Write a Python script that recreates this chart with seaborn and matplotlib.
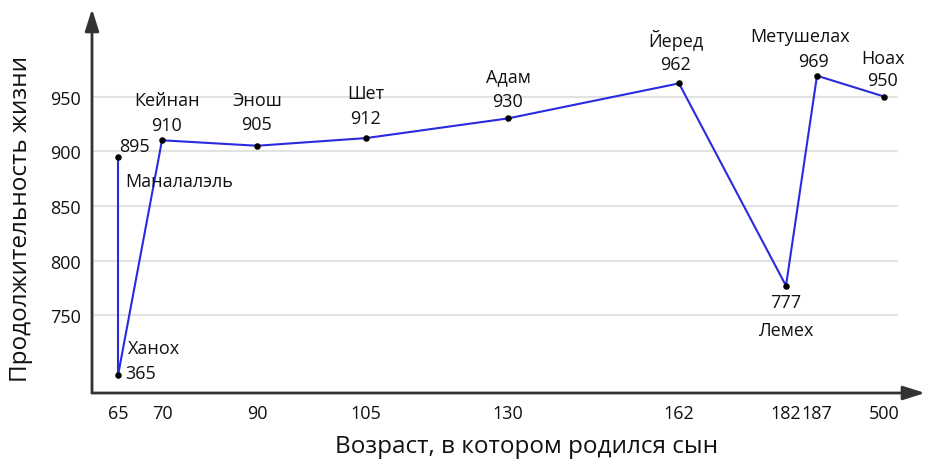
import numpy as np
import pandas as pd
import matplotlib
matplotlib.use("Agg")
import matplotlib.pyplot as plt
import seaborn as sns

# ---- data ----
names = ['Маналалэль', 'Ханох', 'Кейнан', 'Энош', 'Шет', 'Адам',
         'Йеред', 'Лемех', 'Метушелах', 'Ноах']
ages = [65, 65, 70, 90, 105, 130, 162, 182, 187, 500]
lifespans = [895, 365, 910, 905, 912, 930, 962, 777, 969, 950]
x_ticks = [65, 70, 90, 105, 130, 162, 182, 187, 500]
y_ticks = [750, 800, 850, 900, 950]

# ---- layout (not data) ----
W, H = 929, 464
x_tick_px = [118, 162, 257, 366, 508, 679, 786, 817, 884]
# label offsets in pixels: (name dx, name dy, name ha), (value dx, value dy, value ha)
name_off = [(7, -24, 'left'), (10, 27, 'left'), (5, 40, 'center'), (0, 46, 'center'),
            (0, 45, 'center'), (0, 42, 'center'), (-3, 44, 'center'), (0, -44, 'center'),
            (-17, 40, 'center'), (-1, 39, 'center')]
val_off = [(16, 11, 'center'), (7, 2, 'left'), (4, 15, 'center'), (0, 22, 'center'),
           (0, 20, 'center'), (0, 17, 'center'), (-3, 19, 'center'), (0, -16, 'center'),
           (-3, 15, 'center'), (-1, 17, 'center')]

df = pd.DataFrame({'age': ages, 'life': lifespans, 'name': names})

sns.set_theme(style='white')
plt.rcParams['font.family'] = ['Open Sans', 'DejaVu Sans']

fig = plt.figure(figsize=(W / 100, H / 100), dpi=100)
ax_left, ax_right, ax_top, ax_bottom = 92, 925, 10, 394
ax = fig.add_axes([ax_left / W, (H - ax_bottom) / H,
                   (ax_right - ax_left) / W, (ax_bottom - ax_top) / H])

# piecewise x scale
xa = np.array([0] + x_ticks + [1000], dtype=float)
pa = np.array([118 - 65 * 2] + x_tick_px + [884 + 50], dtype=float)
ax.set_xscale('function', functions=(lambda v: np.interp(v, xa, pa),
                                     lambda p: np.interp(p, pa, xa)))
# broken y scale: compress below 700
ya = np.array([0, 365, 700, 3000], dtype=float)
wa = np.array([660, 695, 700, 3000], dtype=float)
ax.set_yscale('function', functions=(lambda v: np.interp(v, ya, wa),
                                     lambda w: np.interp(w, wa, ya)))

ax.set_xlim(np.interp(ax_left, pa, xa), np.interp(ax_right, pa, xa))
ax.set_ylim(np.interp(679, wa, ya), 1030)

for yt in y_ticks:
    ax.axhline(yt, xmax=(897 - ax_left) / (ax_right - ax_left), color='#e2e2e2', lw=1.5, zorder=0)

sns.lineplot(data=df, x='age', y='life', sort=False, color='#2a2ae0', lw=1.5, ax=ax,
             estimator=None, zorder=2)
sns.scatterplot(data=df, x='age', y='life', color='black', s=22, ax=ax, zorder=3,
                edgecolor='black', linewidth=0)

fs = 13
for i, r in df.iterrows():
    dx, dy, ha = name_off[i]
    ax.annotate(r['name'], (r['age'], r['life']), xytext=(dx, dy), textcoords='offset pixels',
                ha=ha, va='center', fontsize=fs, color='#111111')
    dx, dy, ha = val_off[i]
    ax.annotate(str(r['life']), (r['age'], r['life']), xytext=(dx, dy), textcoords='offset pixels',
                ha=ha, va='center', fontsize=fs, color='#111111')

ax.set_xticks(x_ticks)
ax.set_xticklabels([str(t) for t in x_ticks])
ax.set_yticks(y_ticks)
ax.set_yticklabels([str(t) for t in y_ticks])
ax.tick_params(length=0, labelsize=13, colors='#111111')
ax.tick_params(axis='x', pad=8)
ax.tick_params(axis='y', pad=8)
ax.set_xlabel('Возраст, в котором родился сын', fontsize=17.5, color='#111111')
ax.set_ylabel('Продолжительность жизни', fontsize=17.5, color='#111111')
ax.xaxis.set_label_coords((527 - ax_left) / (ax_right - ax_left), -0.108)
ax.yaxis.set_label_coords(-0.071, (ax_bottom - 219) / (ax_bottom - ax_top))

for s in ['top', 'right', 'left', 'bottom']:
    ax.spines[s].set_visible(False)
arrow_kw = dict(arrowstyle='-|>,head_length=1.1,head_width=0.35', color='#333333', lw=2,
                shrinkA=0, shrinkB=0)
ax.annotate('', xy=(0, 1), xytext=(0, 0), xycoords='axes fraction', arrowprops=arrow_kw)
ax.annotate('', xy=(1, 0), xytext=(0, 0), xycoords='axes fraction', arrowprops=arrow_kw)

fig.savefig('out.png', dpi=100)
